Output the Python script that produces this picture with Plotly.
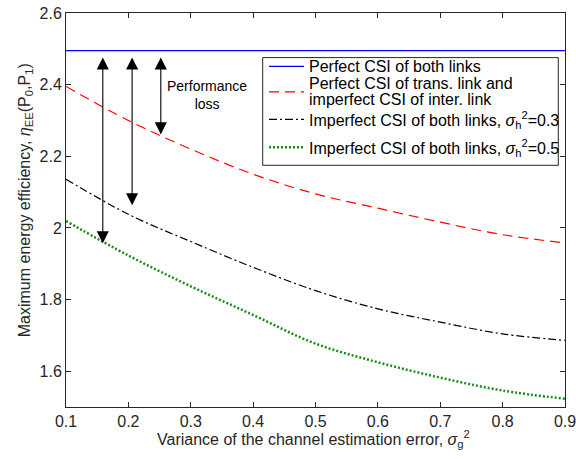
import plotly.graph_objects as go

# ---- data ----
x_vals = [0.1, 0.2, 0.3, 0.4, 0.5, 0.6, 0.7, 0.8, 0.9]
perfect_both = [2.495] * 9
perfect_trans = [2.395, 2.300, 2.220, 2.150, 2.095, 2.055, 2.016, 1.981, 1.958]
imperfect_03 = [2.136, 2.038, 1.962, 1.890, 1.825, 1.774, 1.737, 1.704, 1.686]
imperfect_05 = [2.019, 1.923, 1.837, 1.757, 1.677, 1.625, 1.582, 1.546, 1.523]

# double arrows: x position, top value, bottom value
arrow_x = [0.159, 0.206, 0.252]
arrow_top = [2.48, 2.48, 2.48]
arrow_bottom = [1.957, 2.063, 2.261]

x_ticks = [0.1, 0.2, 0.3, 0.4, 0.5, 0.6, 0.7, 0.8, 0.9]
y_ticks = [1.6, 1.8, 2.0, 2.2, 2.4, 2.6]
y_tick_text = ["1.6", "1.8", "2", "2.2", "2.4", "2.6"]

legend_names = [
    ["Perfect CSI of both links"],
    ["Perfect CSI of trans. link and", "imperfect CSI of inter. link"],
    ["Imperfect CSI of both links, <i>σ</i><sub>h</sub><sup>2</sup>=0.3"],
    ["Imperfect CSI of both links, <i>σ</i><sub>h</sub><sup>2</sup>=0.5"],
]

FONT = "Liberation Sans, Arial, Helvetica, sans-serif"
AX = "#262626"

styles = [
    dict(color="#0000ff", width=1.2),
    dict(color="#ff0000", width=1.2, dash="10px,6px"),
    dict(color="#000000", width=1.2, dash="8px,3px,2px,3px"),
    dict(color="#1a8c1a", width=2.5, dash="2px,2px"),
]
series = [perfect_both, perfect_trans, imperfect_03, imperfect_05]

fig = go.Figure()
for i, (vals, st, nm) in enumerate(zip(series, styles, legend_names)):
    fig.add_trace(go.Scatter(x=x_vals, y=vals, mode="lines",
                             line_shape="linear" if i == 0 else "spline",
                             name=" ".join(nm), line=st, showlegend=False))

for xa, yt, yb in zip(arrow_x, arrow_top, arrow_bottom):
    fig.add_annotation(x=xa, y=yb, ax=xa, ay=yt, xref="x", yref="y",
                       axref="x", ayref="y", text="", showarrow=True,
                       arrowhead=2, startarrowhead=2, arrowside="end+start",
                       arrowsize=2.2, startarrowsize=2.2, arrowwidth=1.1,
                       arrowcolor="#000000")

fig.add_annotation(x=0.326, y=2.370, xref="x", yref="y", showarrow=False,
                   text="Performance<br>loss", align="center",
                   font=dict(family=FONT, size=14, color="#000000"))

# plot-area pixel helpers (plot area: x 66..565, y 12.7..406.7)
def px(v):
    return (v - 66) / 499.0

def py(v):
    return 1 - (v - 12.7) / 394.0

# manual legend (box, samples, labels)
fig.add_shape(type="rect", xref="paper", yref="paper",
              x0=px(262.7), x1=px(558.3), y0=py(165), y1=py(57.3),
              fillcolor="white", line=dict(color=AX, width=1), layer="above")
sample_y = [66, 91.5, 119, 147]
text_y = [[66], [83, 99.5], [120], [148]]
for st, sy, tys, names in zip(styles, sample_y, text_y, legend_names):
    fig.add_shape(type="line", xref="paper", yref="paper",
                  x0=px(269), x1=px(304), y0=py(sy), y1=py(sy),
                  line=st, layer="above")
    for ty, nm in zip(tys, names):
        fig.add_annotation(x=px(307), y=py(ty), xref="paper", yref="paper",
                           xanchor="left", yanchor="middle", showarrow=False,
                           text=nm, font=dict(family=FONT, size=16, color="#000000"))

# axis titles as annotations (fixed placement)
fig.add_annotation(x=px(25), y=py(200), xref="paper", yref="paper", showarrow=False,
                   textangle=-90, xanchor="center", yanchor="middle",
                   text="Maximum energy efficiency, <i>η</i><sub>EE</sub>(P<sub>0</sub>,P<sub>1</sub>)",
                   font=dict(family=FONT, size=16, color=AX))
fig.add_annotation(x=px(313), y=py(439), xref="paper", yref="paper", showarrow=False,
                   xanchor="center", yanchor="middle",
                   text="Variance of the channel estimation error, <i>σ</i><sub>g</sub><sup>2</sup>",
                   font=dict(family=FONT, size=16, color=AX))

axis_common = dict(showline=True, linecolor=AX, linewidth=1, mirror="ticks",
                   ticks="inside", ticklen=5, tickcolor=AX, showgrid=False,
                   zeroline=False, automargin=False, ticklabeloverflow="allow",
                   tickfont=dict(family=FONT, size=16, color=AX))

fig.update_xaxes(range=[0.1, 0.9], tickvals=x_ticks,
                 ticktext=[str(v) for v in x_ticks], **axis_common)
fig.update_yaxes(range=[1.5, 2.6], tickvals=y_ticks, ticktext=y_tick_text,
                 **axis_common)

fig.update_layout(
    width=576, height=459,
    margin=dict(l=66, r=11, t=13, b=52, autoexpand=False),
    paper_bgcolor="white", plot_bgcolor="white",
    font=dict(family=FONT, size=16, color="#000000"),
    showlegend=False,
)

# remove the default 8px page margin so the figure fills the window exactly
fig.write_html("out.html",
               config={"displayModeBar": False},
               post_script="document.body.style.margin='0';"
                           "document.body.style.overflow='hidden';")
